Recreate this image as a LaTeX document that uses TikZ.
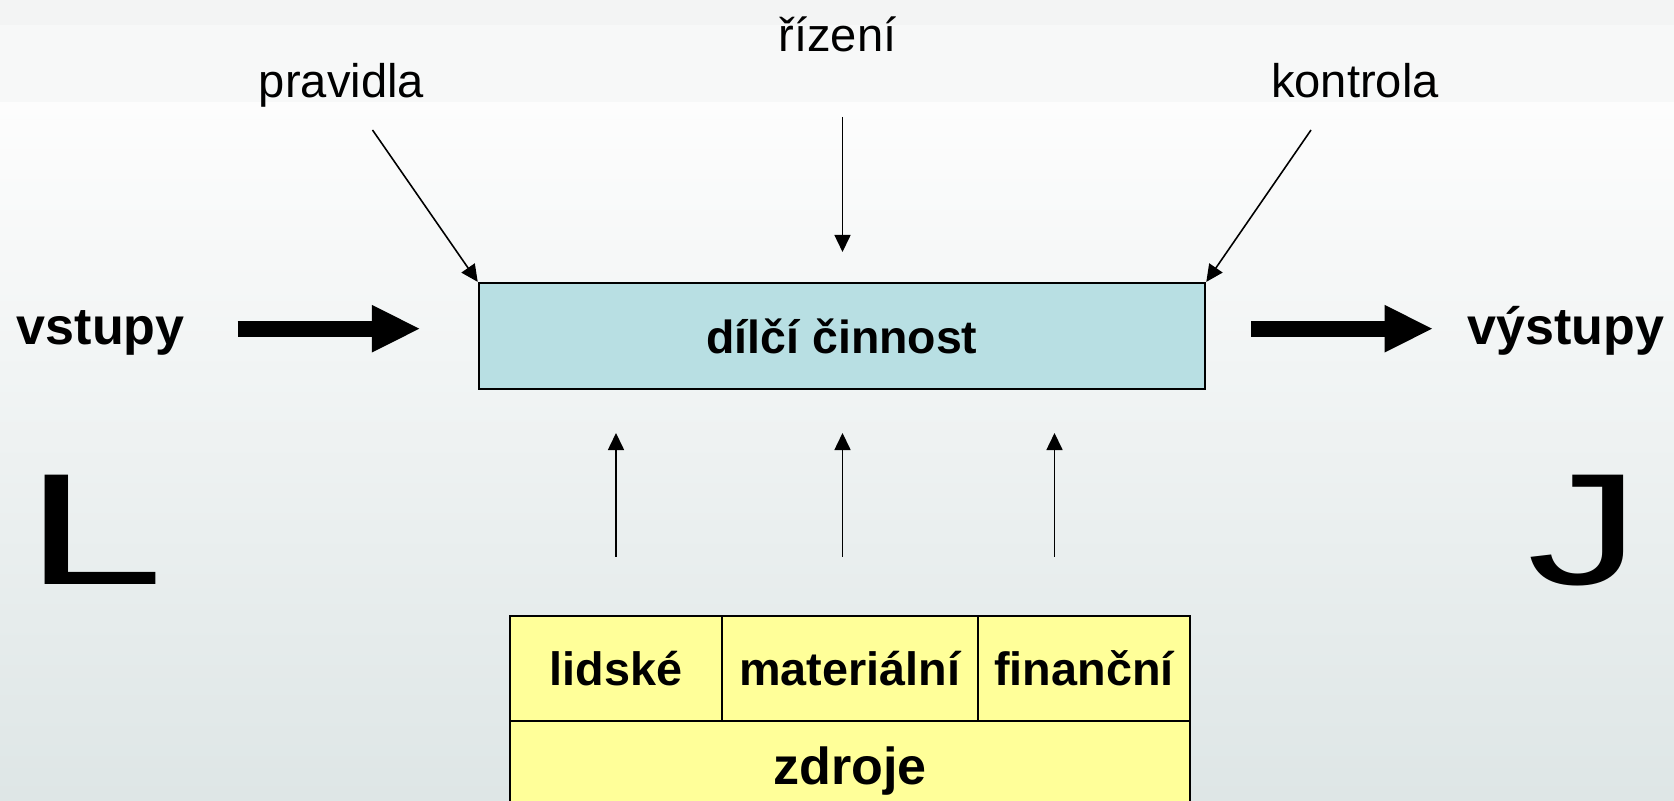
\documentclass[tikz,border=0pt]{standalone}
\usepackage{fontspec}
\setmainfont{Liberation Sans}
\usetikzlibrary{arrows.meta}

\definecolor{boxteal}{HTML}{B8DFE3}
\definecolor{cellyellow}{HTML}{FFFF99}
\definecolor{bandtop}{HTML}{F3F4F4}
\definecolor{band}{HTML}{F7F8F8}
\definecolor{bgtop}{HTML}{FDFDFD}
\definecolor{bgbottom}{HTML}{DEE6E6}

\tikzset{
  thin arrow/.style={-{Triangle[length=0.17cm,width=0.16cm]},line width=0.45pt},
  fat arrow/.style={-{Triangle[length=0.475cm,width=0.477cm,line width=0pt]},line width=0.16cm},
  toptext/.style={inner sep=0pt,anchor=base,font=\fontsize{13.4}{16}\selectfont},
  bigword/.style={inner sep=0pt,anchor=base,font=\fontsize{14.8}{18}\selectfont\bfseries},
  mood/.style={inner sep=0pt,anchor=base,font=\fontsize{45.2}{50}\selectfont},
  cell/.style={draw,line width=0.6pt,fill=cellyellow,inner sep=0pt,
    minimum height=1.05cm,font=\fontsize{13.3}{16}\selectfont\bfseries},
}

\begin{document}
\begin{tikzpicture}[x=0.01cm,y=-0.01cm]
% -- background
\path[use as bounding box,clip] (0,0) rectangle (1674,801);
\fill[bandtop] (0,0) rectangle (1674,25);
\fill[band] (0,25) rectangle (1674,103);
\shade[top color=bgtop,bottom color=bgbottom] (0,103) rectangle (1674,801);
% -- define nodes
\node[draw,line width=0.6pt,fill=boxteal,minimum width=7.26cm,minimum height=1.06cm,
  inner sep=0pt,font=\fontsize{13.2}{16}\selectfont\bfseries] (cinnost) at (842,336) {dílčí činnost};
\node[toptext] (pravidla) at (341.5,98) {pravidla};
\node[toptext] (rizeni) at (837.5,52) {řízení};
\node[toptext] (kontrola) at (1355,98) {kontrola};
\node[bigword] (vstupy) at (100.8,345) {vstupy};
\node[bigword] (vystupy) at (1566,345) {výstupy};
\node[mood] (sad) at (94,585) {\scalebox{1.58}[1]{L}};
\node[mood] (happy) at (1584,584) {\scalebox{1.42}[1]{J}};
% -- resources table
\node[cell,minimum width=2.117cm] (lidske) at (615.85,668.5) {lidské};
\node[cell,minimum width=2.563cm] (materialni) at (849.85,668.5) {materiální};
\node[cell,minimum width=2.12cm] (financni) at (1084,668.5) {finanční};
\node[cell,minimum width=6.8cm,minimum height=1.01cm,font=\fontsize{14.8}{18}\selectfont\bfseries] (zdroje) at (850,771.5) {zdroje};
% -- arrow ends
\coordinate (p0) at (372.5,130);
\coordinate (r0) at (842.5,117);
\coordinate (r1) at (842.5,252);
\coordinate (k0) at (1311,130);
\coordinate (in0) at (237.7,328.7);
\coordinate (in1) at (419.3,328.7);
\coordinate (out0) at (1251,328.7);
\coordinate (out1) at (1432,328.7);
% -- draw arrows
\draw[thin arrow] (p0) -- (cinnost.north west);
\draw[thin arrow] (r0) -- (r1);
\draw[thin arrow] (k0) -- (cinnost.north east);
\draw[fat arrow] (in0) -- (in1);
\draw[fat arrow] (out0) -- (out1);
\foreach \x/\n in {616/a,842.5/b,1054.5/c} {
  \coordinate (z\n) at (\x,557);
  \coordinate (c\n) at (\x,433);
  \draw[thin arrow] (z\n) -- (c\n);
}
\end{tikzpicture}
\end{document}
